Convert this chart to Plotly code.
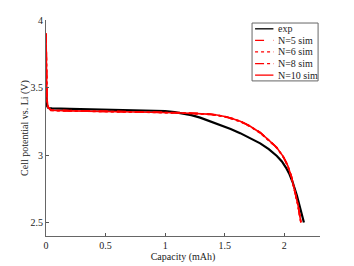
import plotly.graph_objects as go

# Experimental data
exp_cap = [0.0, 0.003, 0.006, 0.01, 0.02, 0.05, 0.2, 0.5, 0.874, 1.0, 1.08, 1.154, 1.22, 1.294,
           1.38, 1.462, 1.55, 1.63, 1.714, 1.798, 1.87, 1.938, 1.98, 2.014, 2.045, 2.07,
           2.106, 2.13, 2.148, 2.165]
exp_v = [3.47, 3.42, 3.38, 3.36, 3.348, 3.345, 3.342, 3.338, 3.332, 3.326, 3.318, 3.306, 3.295, 3.277,
         3.25, 3.223, 3.192, 3.162, 3.127, 3.086, 3.043, 2.993, 2.952, 2.907, 2.855, 2.80,
         2.70, 2.625, 2.565, 2.50]

# Simulation data (N = 5, 6, 8, 10)
sim_cap = [0.0, 0.002, 0.004, 0.008, 0.015, 0.04, 0.2, 0.5, 0.874, 1.154, 1.294, 1.36, 1.434,
           1.5, 1.574, 1.63, 1.714, 1.798, 1.87, 1.938, 1.99, 2.03, 2.06, 2.092, 2.115, 2.134, 2.14]
sim5_v = [3.90, 3.75, 3.55, 3.42, 3.36, 3.333, 3.329, 3.326, 3.319, 3.313, 3.310, 3.305, 3.298,
          3.287, 3.269, 3.252, 3.215, 3.167, 3.112, 3.056, 2.992, 2.922, 2.842, 2.732, 2.632, 2.532, 2.50]
sim6_v = [3.90, 3.74, 3.54, 3.41, 3.355, 3.330, 3.326, 3.323, 3.316, 3.310, 3.306, 3.301, 3.294,
          3.283, 3.264, 3.247, 3.210, 3.162, 3.107, 3.051, 2.987, 2.917, 2.837, 2.727, 2.627, 2.527, 2.50]
sim8_v = [3.90, 3.76, 3.56, 3.42, 3.358, 3.331, 3.327, 3.324, 3.317, 3.311, 3.308, 3.303, 3.296,
          3.285, 3.267, 3.250, 3.213, 3.165, 3.110, 3.054, 2.990, 2.920, 2.840, 2.730, 2.630, 2.530, 2.50]
sim10_v = [3.90, 3.75, 3.55, 3.42, 3.357, 3.331, 3.327, 3.324, 3.317, 3.311, 3.308, 3.303, 3.296,
           3.285, 3.267, 3.250, 3.213, 3.165, 3.110, 3.054, 2.990, 2.920, 2.840, 2.730, 2.630, 2.530, 2.50]

series_names = ["exp", "N=5 sim", "N=6 sim", "N=8 sim", "N=10 sim"]
series_colors = ["#000000", "#ff0000", "#ff0000", "#ff0000", "#ff0000"]
series_dash = ["solid", "dash", "dot", "dashdot", "solid"]
series_width = [2.2, 1.6, 1.6, 1.6, 1.6]

x_ticks = [0, 0.5, 1, 1.5, 2]
x_labels = ["0", "0.5", "1", "1.5", "2"]
y_ticks = [2.5, 3, 3.5, 4]
y_labels = ["2.5", "3", "3.5", "4"]

FONT = "Liberation Serif, Times New Roman, serif"

fig = go.Figure()
xs = [exp_cap, sim_cap, sim_cap, sim_cap, sim_cap]
ys = [exp_v, sim5_v, sim6_v, sim8_v, sim10_v]
for x, y, n, c, d, w in zip(xs, ys, series_names, series_colors, series_dash, series_width):
    fig.add_trace(go.Scatter(x=x, y=y, mode="lines", name=n, showlegend=False,
                             line=dict(color=c, width=w, dash=d)))

# Compact legend (drawn in paper coordinates)
leg_x0, leg_x1, leg_y0, leg_y1 = 0.752, 0.993, 0.718, 0.986
fig.add_shape(type="rect", xref="paper", yref="paper", x0=leg_x0, x1=leg_x1, y0=leg_y0, y1=leg_y1,
              line=dict(color="#666", width=1), fillcolor="white", layer="above")
row_step = (leg_y1 - leg_y0) / len(series_names)
for i, (n, c, d) in enumerate(zip(series_names, series_colors, series_dash)):
    yy = leg_y1 - row_step * (i + 0.5)
    fig.add_shape(type="line", xref="paper", yref="paper", x0=0.763, x1=0.830, y0=yy, y1=yy,
                  line=dict(color=c, width=1.3, dash=d), layer="above")
    fig.add_annotation(xref="paper", yref="paper", x=0.838, y=yy, text=n, showarrow=False,
                       xanchor="left", yanchor="middle",
                       font=dict(family=FONT, size=10, color="#222"))

fig.update_layout(
    width=354, height=266,
    margin=dict(l=46, r=34, t=20, b=30),
    paper_bgcolor="white", plot_bgcolor="white",
    font=dict(family=FONT, size=10, color="#222"),
    showlegend=False,
)
fig.update_xaxes(range=[0, 2.3], tickvals=x_ticks, ticktext=x_labels,
                 ticks="inside", ticklen=3, tickcolor="#555", automargin=False,
                 showline=True, linecolor="#666", linewidth=1, mirror=False,
                 showgrid=False, zeroline=False,
                 title=dict(text="Capacity (mAh)", standoff=0,
                            font=dict(family=FONT, size=10, color="#222")))
fig.update_yaxes(range=[2.4, 4.0], tickvals=y_ticks, ticktext=y_labels,
                 ticks="inside", ticklen=3, tickcolor="#555", automargin=False,
                 showline=True, linecolor="#666", linewidth=1, mirror=False,
                 showgrid=False, zeroline=False,
                 title=dict(text="Cell potential vs. Li (V)", standoff=0,
                            font=dict(family=FONT, size=10, color="#222")))

fig.write_html("out.html", config={"displayModeBar": False, "staticPlot": True},
               post_script="document.body.style.margin='0';document.body.style.overflow='hidden';")
